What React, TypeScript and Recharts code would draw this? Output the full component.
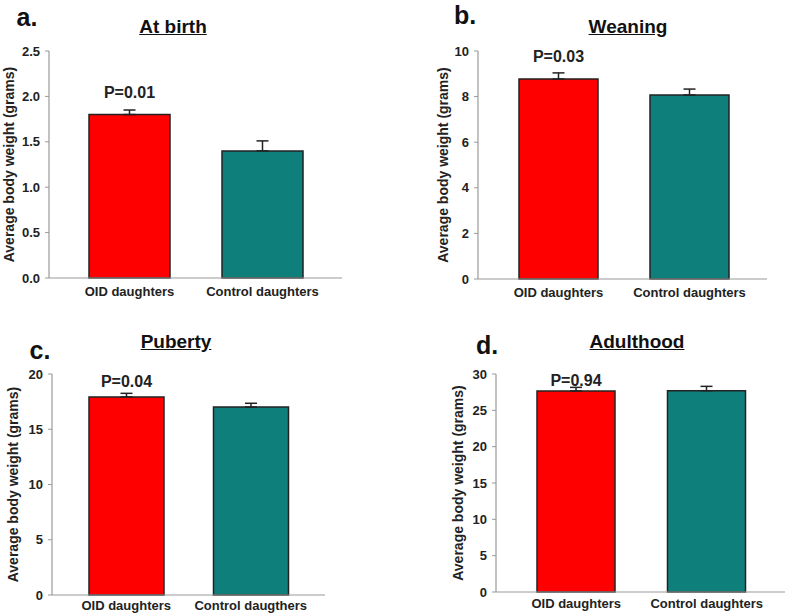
import React from "react";
import { BarChart, Bar, XAxis, YAxis, ErrorBar, Cell, LabelList, Label } from "recharts";

const groups = ["OID daughters", "Control daughters"];
const groupsPuberty = ["OID daughters", "Control daugthers"];

const birthMeans = [1.8, 1.4];
const birthErr = [0.05, 0.11];
const weaningMeans = [8.77, 8.07];
const weaningErr = [0.27, 0.26];
const pubertyMeans = [17.92, 17.01];
const pubertyErr = [0.33, 0.34];
const adultMeans = [27.66, 27.7];
const adultErr = [0.5, 0.6];

const pValues = ["P=0.01", "P=0.03", "P=0.04", "P=0.94"];

const birthTicks = [0, 0.5, 1.0, 1.5, 2.0, 2.5];
const weaningTicks = [0, 2, 4, 6, 8, 10];
const pubertyTicks = [0, 5, 10, 15, 20];
const adultTicks = [0, 5, 10, 15, 20, 25, 30];

const COLORS = ["#ff0000", "#0f7f7c"];
const FONT = "'Liberation Sans', Arial, sans-serif";

function makeRows(names: string[], means: number[], errs: number[], p: string) {
  return names.map((name, i) => ({
    name,
    mean: means[i],
    err: [0, errs[i]],
    p: i === 0 ? p : "",
  }));
}

type PanelProps = {
  left: number;
  top: number;
  width: number;
  height: number;
  letter: string;
  letterPos: [number, number];
  title: string;
  titleX: number;
  titleY: number;
  rows: any[];
  ticks: number[];
  decimals: number;
  axisW: number;
  marginTop: number;
  marginRight: number;
  xAxisH: number;
  xTickMargin: number;
  pad: [number, number];
  barSize: number;
  pOffset: number;
  yLabelX: number;
};

function Panel(props: PanelProps) {
  const {
    left, top, width, height, letter, letterPos, title, titleX, titleY, rows, ticks,
    decimals, axisW, marginTop, marginRight, xAxisH, xTickMargin, pad, barSize, pOffset, yLabelX,
  } = props;
  const max = ticks[ticks.length - 1];
  const midY = marginTop + (height - marginTop - xAxisH) / 2;
  return (
    <div style={{ position: "absolute", left, top, width, height }}>
      <BarChart
        width={width}
        height={height}
        data={rows}
        margin={{ top: marginTop, right: marginRight, bottom: 0, left: 0 }}
      >
        <XAxis
          dataKey="name"
          height={xAxisH}
          padding={{ left: pad[0], right: pad[1] }}
          axisLine={{ stroke: "#9a9a9a", strokeWidth: 1.2 }}
          tickLine={false}
          tickMargin={xTickMargin}
          interval={0}
          tick={{ fill: "#222", fontSize: 13, fontWeight: 700, fontFamily: FONT }}
        />
        <YAxis
          width={axisW}
          domain={[0, max]}
          ticks={ticks}
          interval={0}
          tickFormatter={(v: number) => v.toFixed(decimals)}
          axisLine={{ stroke: "#9a9a9a", strokeWidth: 1.2 }}
          tickLine={{ stroke: "#9a9a9a" }}
          tickSize={4}
          tickMargin={5}
          tick={{ fill: "#222", fontSize: 13, fontWeight: 700, fontFamily: FONT }}
        >
          <Label
            content={() => (
              <text
                x={yLabelX}
                y={midY}
                transform={`rotate(-90, ${yLabelX}, ${midY})`}
                textAnchor="middle"
                dominantBaseline="central"
                fill="#222"
                fontSize={14}
                fontWeight={700}
                fontFamily={FONT}
              >
                Average body weight (grams)
              </text>
            )}
          />
        </YAxis>
        <Bar
          dataKey="mean"
          barSize={barSize}
          stroke="#222"
          strokeWidth={1.5}
          isAnimationActive={false}
        >
          {rows.map((_, i) => (
            <Cell key={i} fill={COLORS[i % COLORS.length]} />
          ))}
          <ErrorBar dataKey="err" direction="y" width={6} stroke="#222" strokeWidth={1.5} />
          <LabelList
            dataKey="p"
            position="top"
            offset={pOffset}
            fill="#222"
            fontSize={16}
            fontWeight={700}
            fontFamily={FONT}
          />
        </Bar>
      </BarChart>
      <div
        style={{
          position: "absolute",
          left: letterPos[0],
          top: letterPos[1],
          transform: "translate(-50%, -50%)",
          fontFamily: FONT,
          fontWeight: 700,
          fontSize: 25,
          color: "#111",
          whiteSpace: "nowrap",
        }}
      >
        {letter}
      </div>
      <div
        style={{
          position: "absolute",
          left: titleX,
          top: titleY,
          transform: "translate(-50%, -50%)",
          fontFamily: FONT,
          fontWeight: 700,
          fontSize: 19,
          color: "#111",
          textDecoration: "underline",
          whiteSpace: "nowrap",
        }}
      >
        {title}
      </div>
    </div>
  );
}

export default function App() {
  return (
    <div
      style={{
        position: "absolute",
        left: 0,
        top: 0,
        width: 787,
        height: 614,
        background: "#fff",
        overflow: "hidden",
      }}
    >
      <Panel
        left={0}
        top={0}
        width={390}
        height={310}
        letter="a."
        letterPos={[27, 17]}
        title="At birth"
        titleX={173}
        titleY={27}
        rows={makeRows(groups, birthMeans, birthErr, pValues[0])}
        ticks={birthTicks}
        decimals={1}
        axisW={49}
        marginTop={51}
        marginRight={48}
        xAxisH={32}
        xTickMargin={3}
        pad={[14, 13]}
        barSize={81}
        pOffset={17}
        yLabelX={9}
      />
      <Panel
        left={390}
        top={0}
        width={397}
        height={310}
        letter="b."
        letterPos={[75, 15]}
        title="Weaning"
        titleX={238}
        titleY={27}
        rows={makeRows(groups, weaningMeans, weaningErr, pValues[1])}
        ticks={weaningTicks}
        decimals={0}
        axisW={88}
        marginTop={51}
        marginRight={20}
        xAxisH={31}
        xTickMargin={3}
        pad={[15, 12]}
        barSize={79}
        pOffset={17}
        yLabelX={53}
      />
      <Panel
        left={0}
        top={310}
        width={390}
        height={304}
        letter="c."
        letterPos={[40, 40]}
        title="Puberty"
        titleX={176}
        titleY={32}
        rows={makeRows(groupsPuberty, pubertyMeans, pubertyErr, pValues[2])}
        ticks={pubertyTicks}
        decimals={0}
        axisW={52}
        marginTop={64}
        marginRight={65}
        xAxisH={19}
        xTickMargin={0}
        pad={[12, 12]}
        barSize={75}
        pOffset={10}
        yLabelX={13}
      />
      <Panel
        left={390}
        top={310}
        width={397}
        height={304}
        letter="d."
        letterPos={[97, 35]}
        title="Adulthood"
        titleX={247}
        titleY={32}
        rows={makeRows(groups, adultMeans, adultErr, pValues[3])}
        ticks={adultTicks}
        decimals={0}
        axisW={106}
        marginTop={64}
        marginRight={2}
        xAxisH={22}
        xTickMargin={1}
        pad={[15, 13]}
        barSize={78}
        pOffset={5}
        yLabelX={68}
      />
    </div>
  );
}
